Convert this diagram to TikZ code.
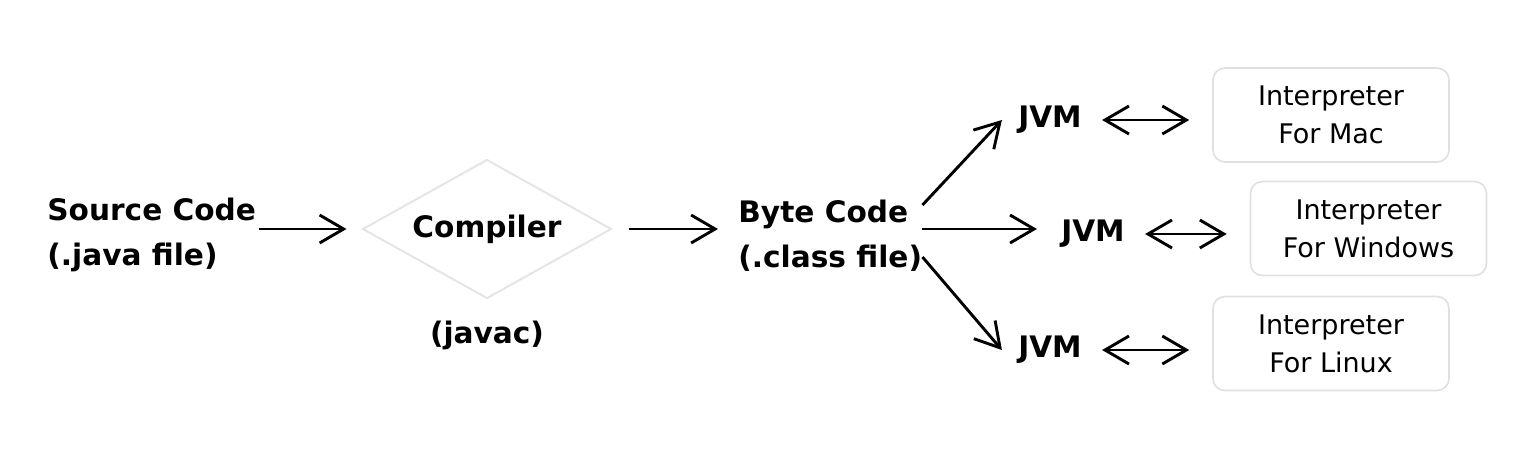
\documentclass[tikz,border=0pt]{standalone}
\usepackage{fontspec}
\setmainfont{DejaVu Sans}
\usetikzlibrary{positioning,shapes.geometric,arrows.meta}

\begin{document}
\begin{tikzpicture}[x=0.5pt, y=-0.5pt,
	bold/.style={font=\bfseries\fontsize{14.8}{22.5}\selectfont},
	arr/.style={line width=1.45pt, -{Straight Barb[length=12pt,width=14pt]}},
	darr/.style={line width=1.45pt, {Straight Barb[length=12pt,width=14pt]}-{Straight Barb[length=12pt,width=14pt]}},
	dstyle/.style={diamond, aspect=1.8, draw=black!10, line width=1pt, fill=white, 
	minimum width=124.5pt, minimum height=69.5pt, inner sep=0pt, bold},
	bstyle/.style={rectangle, rounded corners=6pt, draw=black!12, line width=0.8pt, fill=white,
	minimum width=118pt, minimum height=47pt, align=center, font=\fontsize{13.5}{19}\selectfont},
	jstyle/.style={bold, inner sep=8pt}
	]
	\useasboundingbox (0,0) rectangle (1528,452);
	\node[bold, align=left, anchor=west, inner sep=0pt] (src) at (47,235) {Source Code\\(.java file)};
	\node[dstyle] (cmp) at (487,229) {Compiler};
	\node[bold, below=7pt of cmp] (javac) {(javac)};
	\node[bold, align=left, anchor=west, inner sep=0pt] (byte) at (738,236) {Byte Code\\(.class file)};
	
	\node[jstyle] (jvm1) at (1050,120) {JVM};
	\node[jstyle] (jvm2) at (1093,234) {JVM};
	\node[jstyle] (jvm3) at (1050,350) {JVM};
	
	\node[bstyle] (mac) at (1331,115) {Interpreter\\For Mac};
	\node[bstyle] (win) at (1368.5,228.5) {Interpreter\\For Windows};
	\node[bstyle] (lin) at (1331,343.5) {Interpreter\\For Linux};
	
	\draw[arr, shorten <=1.5pt, shorten >=7.5pt] (src.east |- cmp) -- (cmp);
	\draw[arr, shorten <=8pt, shorten >=10pt] (cmp) -- (cmp -| byte.west);
	\draw[arr] ([yshift=12pt]byte.east |- cmp) -- (jvm1.west);
	\draw[arr, shorten >=4pt] (byte.east |- cmp) -- (cmp -| jvm2.west);
	\draw[arr] ([yshift=-14pt]byte.east |- cmp) -- (jvm3.west);
	
	\draw[darr, shorten <=2pt, shorten >=11.5pt] (jvm1.east) -- (jvm1.east -| mac.west);
	\draw[darr, shorten <=2pt, shorten >=11.5pt] (jvm2.east) -- (jvm2.east -| win.west);
	\draw[darr, shorten <=2pt, shorten >=11.5pt] (jvm3.east) -- (jvm3.east -| lin.west);
\end{tikzpicture}
\end{document}
